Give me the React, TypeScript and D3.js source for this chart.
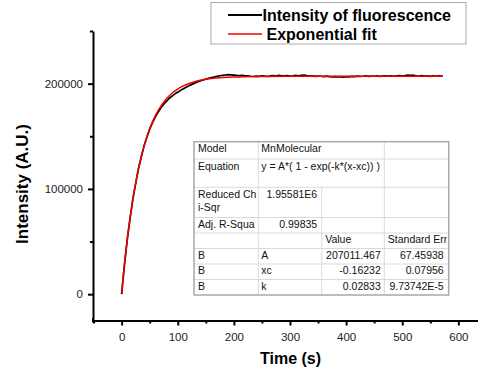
import React, { useEffect, useRef } from 'react';
import * as d3 from 'd3';

// measured fluorescence trace: [time (s), intensity (A.U.)]
const dataPoints: [number, number][] = [
  [0, 0], [5, 27600], [10, 51900], [15, 71800], [20, 90300], [25, 105100], [30, 119200],
  [35, 130300], [40, 140900], [45, 149100], [50, 156800], [55, 162900], [60, 168300],
  [65, 172900], [70, 177000], [75, 180400], [80, 183300], [85, 186100], [90, 188200],
  [95, 190300], [100, 191900], [105, 193600], [110, 195100], [115, 196600], [120, 197900],
  [125, 199300], [130, 200400], [135, 201600], [140, 202500], [145, 203500], [150, 204300],
  [155, 205000], [160, 205700], [165, 206300], [170, 206900], [175, 207500], [180, 207900],
  [185, 208200], [190, 208500], [195, 208300], [200, 208100], [205, 207800], [210, 207600],
  [215, 207800], [220, 207300], [225, 207300], [230, 207000], [235, 206800], [240, 207200],
  [245, 206900], [250, 207400], [255, 207100], [260, 206800], [265, 207300], [270, 207600],
  [275, 207200], [280, 207900], [285, 207500], [290, 207300], [295, 207700], [300, 207100],
  [305, 207400], [310, 207800], [315, 207300], [320, 207900], [325, 208100], [330, 207600],
  [335, 207200], [340, 207500], [345, 206900], [350, 207200], [355, 207000], [360, 206700],
  [365, 207100], [370, 206600], [375, 206400], [380, 206700], [385, 206300], [390, 206600],
  [395, 206200], [400, 206700], [405, 206500], [410, 206900], [415, 206600], [420, 207100],
  [425, 206800], [430, 207000], [435, 207300], [440, 206900], [445, 207200], [450, 207000],
  [455, 207400], [460, 206900], [465, 207200], [470, 207500], [475, 207100], [480, 207300],
  [485, 207000], [490, 207400], [495, 207600], [500, 207200], [505, 207700], [510, 208200],
  [515, 207800], [520, 208000], [525, 207500], [530, 207200], [535, 207600], [540, 207100],
  [545, 207400], [550, 206900], [555, 207300], [560, 207000], [565, 207500], [570, 207200],
  [572, 207400],
];

// exponential fit curve
const fitPoints: [number, number][] = [
  [0, 950], [5, 28170], [10, 51790], [15, 72290], [20, 90070], [25, 105530], [30, 118940],
  [35, 130560], [40, 140660], [45, 149420], [50, 157020], [55, 163640], [60, 169370],
  [65, 174330], [70, 178660], [75, 182390], [80, 185640], [85, 188460], [90, 190920],
  [95, 193040], [100, 194890], [110, 197880], [120, 200130], [130, 201840], [140, 203120],
  [150, 204060], [160, 204810], [170, 205340], [180, 205750], [190, 206060], [200, 206300],
  [220, 206610], [250, 206840], [300, 206970], [400, 207010], [500, 207011], [572, 207011],
];

const xMajorTicks = [0, 100, 200, 300, 400, 500, 600];
const xMinorTicks = [-50, 50, 150, 250, 350, 450, 550];
const yMajorTicks = [0, 100000, 200000];
const yMinorTicks = [50000, 150000, 250000];

const legendLabels = ['Intensity of fluorescence', 'Exponential fit'];
const legendColors = ['#000000', '#f00000'];

const statLabels = [['Model'], ['Equation'], ['Reduced Ch', 'i-Sqr'], ['Adj. R-Squa']];
const statValues = ['MnMolecular', 'y = A*( 1 - exp(-k*(x-xc)) )', '1.95581E6', '0.99835'];
const paramHeader = ['Value', 'Standard Err'];
const paramNames = ['A', 'xc', 'k'];
const paramValues = ['207011.467', '-0.16232', '0.02833'];
const paramErrors = ['67.45938', '0.07956', '9.73742E-5'];

const FONT = '"Liberation Sans", Arial, sans-serif';

const App = () => {
  const svgRef = useRef<SVGSVGElement | null>(null);

  useEffect(() => {
    const svg = d3.select(svgRef.current);
    svg.selectAll('*').remove();

    const width = 478;
    const height = 372;
    svg.attr('width', width).attr('height', height);

    const x = d3.scaleLinear().domain([-51, 635]).range([93, 478]);
    const y = d3.scaleLinear().domain([-25000, 250000]).range([320.5, 31]);

    // axes
    const styleAxis = (g: any, major: boolean) => {
      g.select('.domain').attr('stroke', '#000').attr('stroke-width', 2);
      g.selectAll('.tick line').attr('stroke', '#000').attr('stroke-width', 2);
      g.selectAll('.tick text')
        .attr('fill', '#222')
        .style('font-family', FONT)
        .style('font-size', '11.5px');
      if (!major) g.select('.domain').remove();
    };

    svg.append('g')
      .attr('transform', 'translate(0,320.5)')
      .call(d3.axisBottom(x).tickValues(xMinorTicks).tickSize(3).tickSizeOuter(0).tickFormat(() => ''))
      .call((g: any) => styleAxis(g, false));
    svg.append('g')
      .attr('transform', 'translate(0,320.5)')
      .call(d3.axisBottom(x).tickValues(xMajorTicks).tickSize(5).tickSizeOuter(0).tickPadding(7))
      .call((g: any) => styleAxis(g, true));

    svg.append('g')
      .attr('transform', 'translate(93,0)')
      .call(d3.axisLeft(y).tickValues(yMinorTicks).tickSize(3).tickSizeOuter(0).tickFormat(() => ''))
      .call((g: any) => styleAxis(g, false));
    svg.append('g')
      .attr('transform', 'translate(93,0)')
      .call(d3.axisLeft(y).tickValues(yMajorTicks).tickSize(5).tickSizeOuter(0).tickPadding(5).tickFormat(d3.format('d')))
      .call((g: any) => styleAxis(g, true));
    // y axis pokes slightly below the x axis
    svg.append('line')
      .attr('x1', 93).attr('x2', 93).attr('y1', 318).attr('y2', 322.5)
      .attr('stroke', '#000').attr('stroke-width', 2);

    // axis titles
    svg.append('text')
      .attr('x', 290.5).attr('y', 364)
      .attr('text-anchor', 'middle')
      .style('font-family', FONT).style('font-size', '16px').style('font-weight', 'bold')
      .text('Time (s)');
    svg.append('text')
      .attr('transform', 'translate(28,184) rotate(-90)')
      .attr('text-anchor', 'middle')
      .style('font-family', FONT).style('font-size', '17px').style('font-weight', 'bold')
      .text('Intensity (A.U.)');

    // curves
    const line = d3.line<[number, number]>().x(d => x(d[0])).y(d => y(d[1]));
    svg.append('path')
      .datum(dataPoints)
      .attr('d', line)
      .attr('fill', 'none')
      .attr('stroke', legendColors[0])
      .attr('stroke-width', 1.7)
      .attr('stroke-linejoin', 'round');
    svg.append('path')
      .datum(fitPoints)
      .attr('d', line.curve(d3.curveMonotoneX))
      .attr('fill', 'none')
      .attr('stroke', legendColors[1])
      .attr('stroke-width', 1.5);

    // legend
    const legend = svg.append('g');
    legend.append('rect')
      .attr('x', 211).attr('y', 2.5).attr('width', 255).attr('height', 41.5)
      .attr('fill', '#fff').attr('stroke', '#aaa').attr('stroke-width', 1);
    legendLabels.forEach((label, i) => {
      const ly = 15 + i * 19;
      legend.append('line')
        .attr('x1', 228).attr('x2', 262).attr('y1', ly).attr('y2', ly)
        .attr('stroke', legendColors[i]).attr('stroke-width', i === 0 ? 2 : 1.5);
      legend.append('text')
        .attr('x', i === 0 ? 262.5 : 266.5).attr('y', ly + 5.8)
        .style('font-family', FONT).style('font-size', '16px').style('font-weight', 'bold')
        .text(label);
    });

    // fit result table
    const cols = [194, 258.3, 321.7, 384.3, 448.7];
    const rows = [141.7, 159, 187.3, 217.5, 233, 248.5, 264, 279.5, 295];
    const table = svg.append('g').style('font-family', FONT).style('font-size', '10.5px');

    svg.append('defs').append('clipPath').attr('id', 'table-clip')
      .append('rect')
      .attr('x', cols[0]).attr('y', rows[0])
      .attr('width', cols[4] - cols[0] - 2).attr('height', rows[8] - rows[0]);

    table.append('rect')
      .attr('x', cols[0]).attr('y', rows[0])
      .attr('width', cols[4] - cols[0]).attr('height', rows[8] - rows[0])
      .attr('fill', '#fff');

    rows.slice(1, -1).forEach(ry => {
      table.append('line')
        .attr('x1', cols[0]).attr('x2', cols[4]).attr('y1', ry).attr('y2', ry)
        .attr('stroke', '#dadada').attr('stroke-width', 1);
    });
    [cols[1], cols[3]].forEach(cx => {
      table.append('line')
        .attr('x1', cx).attr('x2', cx).attr('y1', rows[0]).attr('y2', rows[8])
        .attr('stroke', '#dadada').attr('stroke-width', 1);
    });
    table.append('line')
      .attr('x1', cols[2]).attr('x2', cols[2]).attr('y1', rows[2]).attr('y2', rows[8])
      .attr('stroke', '#dadada').attr('stroke-width', 1);

    const cellText = (tx: number, ty: number, text: string, anchor = 'start') => {
      table.append('text')
        .attr('x', tx).attr('y', ty)
        .attr('text-anchor', anchor)
        .attr('fill', '#111')
        .attr('clip-path', 'url(#table-clip)')
        .text(text);
    };

    statLabels.forEach((lines, i) => {
      lines.forEach((l, j) => cellText(cols[0] + 4, rows[i] + 10.5 + j * 13, l));
      if (i < 2) cellText(cols[1] + 3, rows[i] + 10.5, statValues[i]);
      else cellText(cols[2] - 4.5, rows[i] + 10.5, statValues[i], 'end');
    });
    paramHeader.forEach((h, i) => cellText(cols[2 + i] + 3.5, rows[4] + 10, h));
    paramNames.forEach((name, i) => {
      const ty = rows[5 + i] + 10;
      cellText(cols[0] + 4, ty, 'B');
      cellText(cols[1] + 3, ty, name);
      cellText(cols[3] - 3.5, ty, paramValues[i], 'end');
      cellText(cols[4] - 5, ty, paramErrors[i], 'end');
    });

    table.append('rect')
      .attr('x', cols[0]).attr('y', rows[0])
      .attr('width', cols[4] - cols[0]).attr('height', rows[8] - rows[0])
      .attr('fill', 'none').attr('stroke', '#a8a8a8').attr('stroke-width', 1.5);
  }, []);

  return (
    <div style={{ position: 'absolute', left: 0, top: 0, background: '#fff' }}>
      <svg ref={svgRef} style={{ display: 'block' }}></svg>
    </div>
  );
};

export default App;
